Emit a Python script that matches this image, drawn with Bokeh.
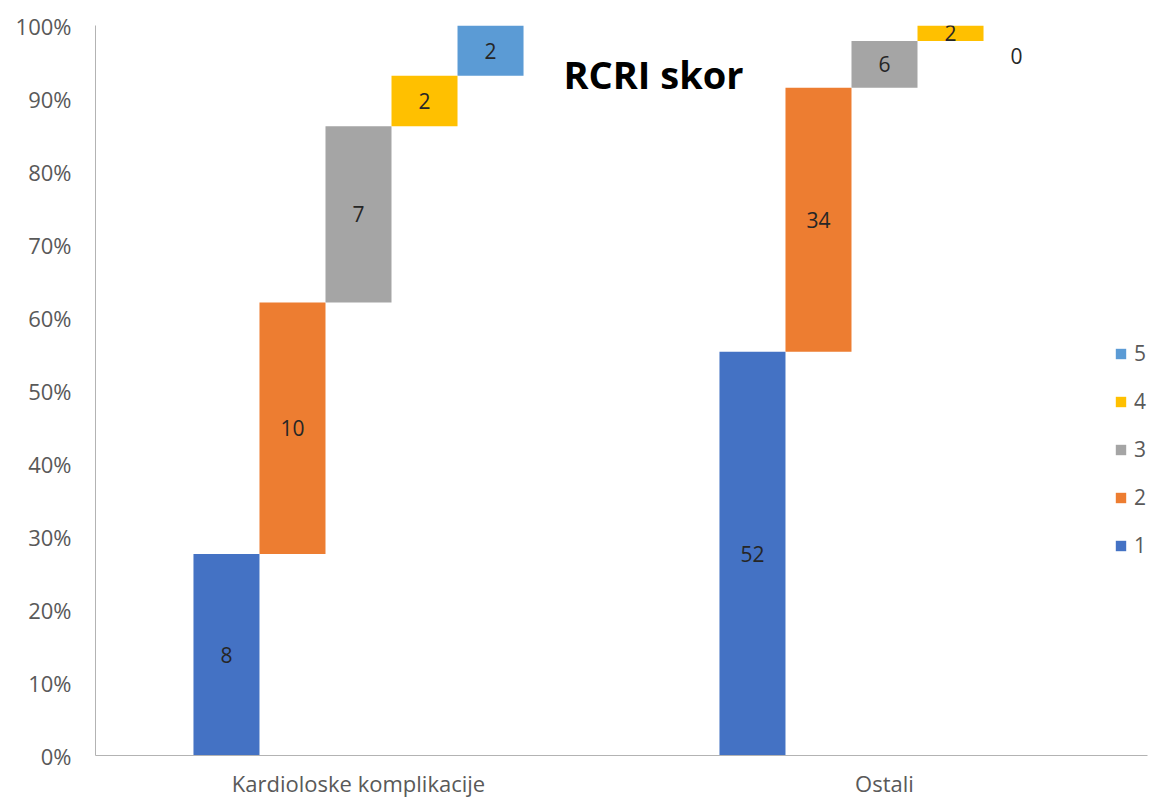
import numpy as np
from bokeh.plotting import figure
from bokeh.models import (ColumnDataSource, Range1d, FixedTicker, NumeralTickFormatter,
                          Legend, LegendItem, Label)
from bokeh.core.properties import value
from bokeh.embed import file_html
from bokeh.resources import INLINE

# ---- data ----
categories = ["Kardioloske komplikacije", "Ostali"]
scores = ["1", "2", "3", "4", "5"]
kardio = [8, 10, 7, 2, 2]
ostali = [52, 34, 6, 2, 0]
colors = ["#4472C4", "#ED7D31", "#A5A5A5", "#FFC000", "#5B9BD5"]
y_ticks = [0.0, 0.1, 0.2, 0.3, 0.4, 0.5, 0.6, 0.7, 0.8, 0.9, 1.0]
title_text = "RCRI skor"

FONT = "Open Sans"
AXIS_COL = "#595959"
LABEL_COL = "#262626"

counts = np.array([kardio, ostali], dtype=float)          # shape (2 categories, 5 scores)
fracs = counts / counts.sum(axis=1, keepdims=True)
cum = np.cumsum(fracs, axis=1)
bottoms = cum - fracs

n = len(scores)
bar_w = 0.1255
cat_centers = np.arange(len(categories)) + 0.5

p = figure(width=1160, height=800, output_backend="svg", toolbar_location=None,
           x_range=Range1d(0, len(categories)), y_range=Range1d(0, 1),
           min_border_left=95, min_border_right=13, min_border_top=25, min_border_bottom=45)
p.outline_line_color = None
p.xgrid.visible = False
p.ygrid.visible = False
p.background_fill_color = "white"
p.border_fill_color = "white"

items = []
for i, s in enumerate(scores):
    xs = cat_centers + (i - (n - 1) / 2) * bar_w
    src = ColumnDataSource(dict(
        x=xs, bottom=bottoms[:, i], top=cum[:, i],
        mid=(bottoms[:, i] + cum[:, i]) / 2,
        lab=[str(int(v)) for v in counts[:, i]],
        yoff=[30 if v == 0 else 0 for v in counts[:, i]],
    ))
    r = p.vbar(x="x", width=bar_w, bottom="bottom", top="top", source=src,
               fill_color=colors[i], line_color=None)
    p.text(x="x", y="mid", text="lab", source=src, y_offset="yoff",
           text_align="center", text_baseline="middle",
           text_font=value(FONT), text_font_size="21px", text_color=LABEL_COL)
    items.append(LegendItem(label=s, renderers=[r]))

legend = Legend(items=list(reversed(items)), location=(1019, 196),
                glyph_width=13, glyph_height=13, label_height=20, spacing=20,
                label_standoff=7, padding=0, margin=0,
                label_text_font=FONT, label_text_font_size="21px",
                label_text_color=AXIS_COL,
                border_line_color=None, background_fill_alpha=0)
p.add_layout(legend, "center")

# axes
p.yaxis.ticker = FixedTicker(ticks=y_ticks)
p.yaxis.formatter = NumeralTickFormatter(format="0%")
p.xaxis.ticker = FixedTicker(ticks=list(cat_centers))
p.xaxis.major_label_overrides = {float(c): name for c, name in zip(cat_centers, categories)}
for ax in (p.xaxis, p.yaxis):
    ax.axis_line_color = "#b3b3b3"
    ax.axis_line_width = 1
    ax.major_tick_line_color = None
    ax.minor_tick_line_color = None
    ax.major_tick_in = 0
    ax.major_tick_out = 0
    ax.major_label_text_font = FONT
    ax.major_label_text_font_size = "22px"
    ax.major_label_text_color = AXIS_COL
p.yaxis.major_label_standoff = 24
p.xaxis.major_label_standoff = 12
p.xaxis.major_label_text_line_height = 1.0

title = Label(x=558, y=682, x_units="screen", y_units="screen", text=title_text,
              text_align="center", text_baseline="alphabetic",
              text_font=FONT, text_font_style="bold", text_font_size="38px",
              text_color="#000000")
p.add_layout(title)

open("out.html", "w").write(file_html(p, INLINE))
